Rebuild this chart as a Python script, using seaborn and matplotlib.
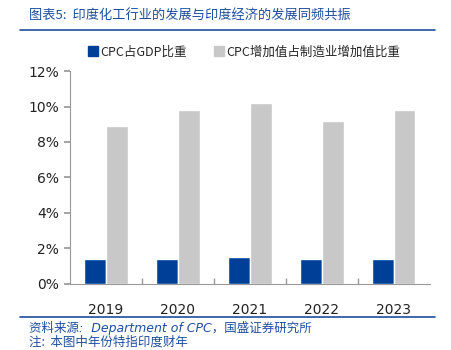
import matplotlib
matplotlib.use("Agg")
import matplotlib.pyplot as plt
import seaborn as sns
import pandas as pd
import numpy as np

years = ["2019", "2020", "2021", "2022", "2023"]
cpc_gdp = [1.4, 1.4, 1.5, 1.4, 1.4]
cpc_mfg = [8.9, 9.8, 10.2, 9.2, 9.8]
series_names = ["CPC占GDP比重", "CPC增加值占制造业增加值比重"]
yticks = [0, 2, 4, 6, 8, 10, 12]

sns.set_theme(style="white")
plt.rcParams['font.family'] = ['Noto Sans CJK SC', 'DejaVu Sans']

df = pd.DataFrame({
    "year": years * 2,
    "value": cpc_gdp + cpc_mfg,
    "series": [series_names[0]] * len(years) + [series_names[1]] * len(years),
})

fig = plt.figure(figsize=(4.52, 3.5), dpi=100)
ax = fig.add_axes([0.155, 0.189, 0.796, 0.608])
blue = "#003f98"
gray = "#c8c8c8"
sns.barplot(data=df, x="year", y="value", hue="series", palette=[blue, gray],
            width=0.6, ax=ax, legend=False, saturation=1)

ax.set_ylim(0, 12)
ax.set_xlim(-0.5, 4.5)
ax.set_yticks(yticks)
ax.set_yticklabels([f"{t}%" for t in yticks], fontsize=10, color="#222222",
                   family=['DejaVu Sans'])
ax.set_xticks(range(len(years)))
ax.set_xticklabels(years, fontsize=10, color="#222222", family=['DejaVu Sans'])
ax.set_xlabel("")
ax.set_ylabel("")
for s in ["top", "right"]:
    ax.spines[s].set_visible(False)
for s in ["left", "bottom"]:
    ax.spines[s].set_color("#999999")
    ax.spines[s].set_linewidth(0.8)
ax.tick_params(axis="y", which="major", left=True, length=4, color="#999999", pad=4)
ax.tick_params(axis="x", which="major", bottom=False, pad=8)
ax.set_xticks(np.arange(0.5, 4.5, 1), minor=True)
ax.tick_params(axis="x", which="minor", bottom=True, length=4, color="#999999", direction="in")

# legend
from matplotlib.patches import Patch
handles = [Patch(facecolor=blue, edgecolor=blue), Patch(facecolor=gray, edgecolor=gray)]
fig.legend(handles, series_names, loc="center", bbox_to_anchor=(0.54, 0.852), ncol=2,
           frameon=False, fontsize=9, handlelength=0.8, handleheight=0.8,
           handletextpad=0.2, columnspacing=2.2)

title_color = "#1f4e9e"
fig.text(0.065, 0.955, "图表5:  印度化工行业的发展与印度经济的发展同频共振", fontsize=9.5,
         color=title_color, style="italic", va="center", ha="left")
fig.add_artist(plt.Line2D([0.044, 0.963], [0.913, 0.913], color=title_color, lw=1.2))
fig.add_artist(plt.Line2D([0.044, 0.963], [0.094, 0.094], color=title_color, lw=1.2))
fig.text(0.065, 0.063, "资料来源:  Department of CPC，国盛证券研究所", fontsize=9,
         color=title_color, style="italic", va="center", ha="left",
         family=['DejaVu Sans', 'Noto Sans CJK SC'])
fig.text(0.065, 0.022, "注:  本图中年份特指印度财年", fontsize=9,
         color=title_color, style="italic", va="center", ha="left")

fig.savefig("out.png", dpi=100)
